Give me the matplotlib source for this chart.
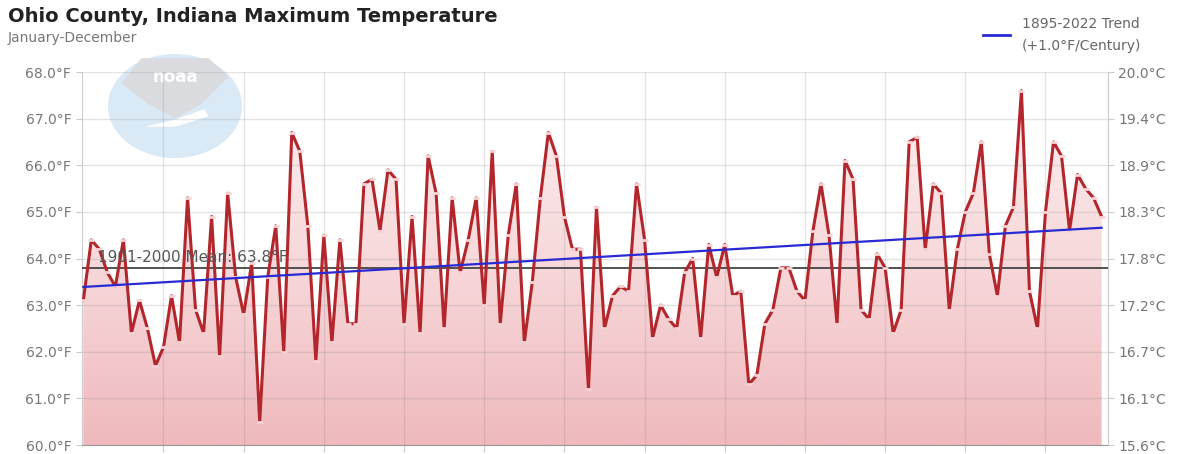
import numpy as np
import matplotlib
matplotlib.use("Agg")
import matplotlib.pyplot as plt
from matplotlib.colors import LinearSegmentedColormap
from matplotlib.patches import Polygon, Ellipse
from matplotlib.lines import Line2D

# annual max temperature, Ohio County IN (deg F), 1895-2022
years = np.arange(1895, 2023)
tmax = [
    63.1, 64.4, 64.2, 63.7, 63.4,                                # 1895-1899
    64.4, 62.4, 63.1, 62.5, 61.7, 62.1, 63.2, 62.2, 65.3, 62.9,  # 1900s
    62.4, 64.9, 61.9, 65.4, 63.6, 62.8, 63.9, 60.5, 63.6, 64.7,  # 1910s
    62.0, 66.7, 66.3, 64.7, 61.8, 64.5, 62.2, 64.4, 62.6, 62.6,  # 1920s
    65.6, 65.7, 64.6, 65.9, 65.7, 62.6, 64.9, 62.4, 66.2, 65.4,  # 1930s
    62.5, 65.3, 63.7, 64.4, 65.3, 63.0, 66.3, 62.6, 64.5, 65.6,  # 1940s
    62.2, 63.5, 65.3, 66.7, 66.2, 64.9, 64.2, 64.2, 61.2, 65.1,  # 1950s
    62.5, 63.2, 63.4, 63.3, 65.6, 64.4, 62.3, 63.0, 62.7, 62.5,  # 1960s
    63.7, 64.0, 62.3, 64.3, 63.6, 64.3, 63.2, 63.3, 61.3, 61.5,  # 1970s
    62.6, 62.9, 63.8, 63.8, 63.3, 63.1, 64.6, 65.6, 64.5, 62.6,  # 1980s
    66.1, 65.7, 62.9, 62.7, 64.1, 63.8, 62.4, 62.9, 66.5, 66.6,  # 1990s
    64.2, 65.6, 65.4, 62.9, 64.2, 65.0, 65.4, 66.5, 64.1, 63.2,  # 2000s
    64.7, 65.1, 67.6, 63.3, 62.5, 65.0, 66.5, 66.2, 64.6, 65.8,  # 2010s
    65.5, 65.3, 64.9,                                            # 2020-2022
]
tmax = np.array(tmax)

mean_1901_2000 = 63.8
trend_years = [1895, 2022]
trend_vals = [63.39, 64.66]

yticks_f = [60, 61, 62, 63, 64, 65, 66, 67, 68]
yticks_c = [f"{(f - 32) * 5 / 9:.1f}°C" for f in yticks_f]
xgrid = [1905, 1915, 1925, 1935, 1945, 1955, 1965, 1975, 1985, 1995, 2005, 2015]

fig = plt.figure(figsize=(11.79, 4.54), dpi=100)

# faded noaa logo, sits behind the (transparent) plot axes
lg = fig.add_axes([108 / 1179, 1 - 158 / 454, 134 / 1179, 104 / 454], zorder=0)
lg.set_xlim(0, 1)
lg.set_ylim(0, 1)
lg.axis("off")
lg.add_patch(Ellipse((0.5, 0.5), 1, 1, facecolor="#d9e9f6", edgecolor="none"))
lg.add_patch(Polygon([(0.25, 0.96), (0.75, 0.96), (0.9, 0.78), (0.7, 0.52),
                      (0.5, 0.38), (0.3, 0.52), (0.1, 0.72)],
                     facecolor="#d9dbdf", edgecolor="none"))
lg.add_patch(Polygon([(0.28, 0.3), (0.5, 0.37), (0.72, 0.47), (0.75, 0.4), (0.5, 0.3)],
                     facecolor="white", edgecolor="none"))
lg.text(0.5, 0.78, "noaa", color="white", fontsize=12, fontweight="bold",
        ha="center", va="center")

ax = fig.add_axes([0.0693, 0.0198, 0.8705, 0.8216], zorder=1)
ax.patch.set_alpha(0)

# pink gradient under the series
verts = [(years[0], 60)] + list(zip(years, tmax)) + [(years[-1], 60)]
clip = Polygon(verts, facecolor="none", edgecolor="none")
ax.add_patch(clip)
cmap = LinearSegmentedColormap.from_list("pk", ["#fdf1f2", "#f7d9db", "#efb9bd"])
grad = np.linspace(0, 1, 256).reshape(-1, 1)
im = ax.imshow(grad, extent=[years[0], years[-1], 60, 68], origin="upper",
               aspect="auto", cmap=cmap, zorder=0.2)
im.set_clip_path(clip)

ax.plot(years, tmax, color="#b3262c", lw=2.2, zorder=4)
ax.plot(years, tmax, ls="none", marker="_", ms=5, mew=2, color="#f6d3d5", zorder=5)

ax.axhline(mean_1901_2000, color="#444444", lw=1.3, zorder=3)
ax.plot(trend_years, trend_vals, color="#2a2ad4", lw=1.6, zorder=6)
ax.text(1896.8, 64.03, "1901-2000 Mean: 63.8°F", fontsize=11, color="#555555",
        va="center", ha="left", zorder=7)

ax.set_xlim(1894.8, 2022.8)
ax.set_ylim(60, 68)
ax.set_yticks(yticks_f)
ax.set_yticklabels([f"{f:.1f}°F" for f in yticks_f])
ax.set_xticks(xgrid)
ax.set_xticklabels([])
ax.grid(True, color="#888888", alpha=0.22, lw=1, zorder=0.5)
ax.set_axisbelow(True)
ax.tick_params(axis="y", colors="#cccccc", labelcolor="#777777", labelsize=10, length=4)
ax.tick_params(axis="x", colors="#cccccc", length=5)
ax.spines["top"].set_visible(False)
for s in ["left", "right"]:
    ax.spines[s].set_color("#cccccc")
ax.spines["bottom"].set_color("#999999")

ax2 = ax.twinx()
ax2.patch.set_alpha(0)
ax2.set_ylim(60, 68)
ax2.set_yticks(yticks_f)
ax2.set_yticklabels(yticks_c)
ax2.tick_params(axis="y", colors="#cccccc", labelcolor="#777777", labelsize=10, length=4)
for s in ["top", "left", "bottom"]:
    ax2.spines[s].set_visible(False)
ax2.spines["right"].set_color("#cccccc")

# titles and legend
fig.text(8 / 1179, 1 - 16 / 454, "Ohio County, Indiana Maximum Temperature",
         fontsize=14, fontweight="bold", color="#222222", va="center")
fig.text(8 / 1179, 1 - 38 / 454, "January-December", fontsize=10, color="#777777",
         va="center")
fig.add_artist(Line2D([983 / 1179, 1010 / 1179], [1 - 35 / 454] * 2, color="#2a2ad4", lw=2))
fig.text(1022 / 1179, 1 - 24 / 454, "1895-2022 Trend", fontsize=10, color="#666666", va="center")
fig.text(1022 / 1179, 1 - 46 / 454, "(+1.0°F/Century)", fontsize=10, color="#666666", va="center")

fig.savefig("out.png", dpi=100)
